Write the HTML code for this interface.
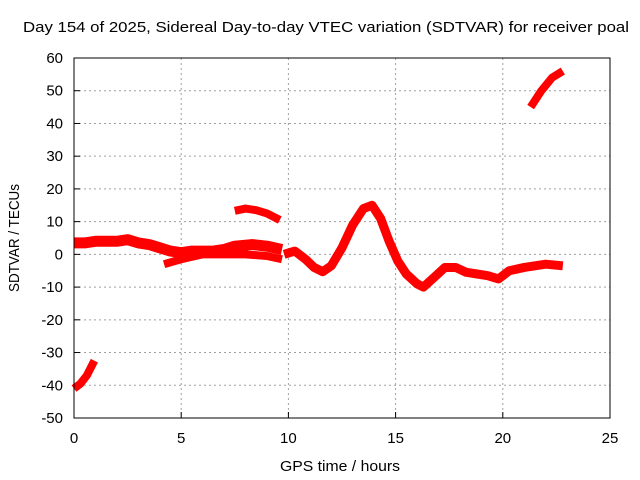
<!DOCTYPE html>
<html><head><meta charset="utf-8"><style>
body{margin:0;background:#fff;}
svg{display:block;font-family:"Liberation Sans",sans-serif;}
</style></head><body>
<svg id="chart" width="640" height="480">
<text x="326" y="32" font-size="15" text-anchor="middle" textLength="606" lengthAdjust="spacingAndGlyphs">Day 154 of 2025, Sidereal Day-to-day VTEC variation (SDTVAR) for receiver poal</text>
<text x="340" y="471" font-size="15" text-anchor="middle" textLength="120" lengthAdjust="spacingAndGlyphs">GPS time / hours</text>
<text transform="translate(19,238) rotate(-90)" font-size="15" text-anchor="middle" textLength="108" lengthAdjust="spacingAndGlyphs">SDTVAR / TECUs</text>
<g id="grid"></g><g id="series"></g>
<rect x="74" y="58" width="536" height="360" fill="none" stroke="#000" stroke-width="1"/>
</svg>
<script>
const xTicks=[0,5,10,15,20,25];
const yTicks=[60,50,40,30,20,10,0,-10,-20,-30,-40,-50];
const segNegStart=[[0,-41],[0.3,-39.5],[0.6,-37],[0.95,-32.5]];
const segEarly=[[0,3.5],[0.5,3.5],[1,4],[1.5,4],[2,4],[2.5,4.5],[3,3.5],[3.5,3],[4,2],[4.5,1],[5,0.5],[5.5,1],[6,1],[6.5,1],[7,1.5],[7.5,2.5],[8.3,3],[9,2.5],[9.7,1.5]];
const segLower=[[4.2,-3],[5,-1.5],[6,0],[7,0],[8,0],[9,-0.5],[9.7,-1.5]];
const segArc=[[7.5,13.3],[8,14],[8.5,13.5],[9,12.5],[9.6,10.5]];
const segMain=[[9.8,0],[10.3,1],[10.8,-1.5],[11.2,-4],[11.6,-5.3],[12,-3.5],[12.5,2],[13,9],[13.5,14],[13.9,15],[14.3,11],[14.7,4],[15.1,-2],[15.5,-6],[16,-9],[16.3,-10],[16.8,-7],[17.3,-4],[17.8,-4],[18.3,-5.5],[18.8,-6],[19.3,-6.5],[19.8,-7.5],[20.3,-5],[21,-4],[22,-3],[22.8,-3.5]];
const segLate=[[21.3,45],[21.8,50],[22.3,54],[22.8,56]];
const allSeries=[segNegStart,segEarly,segLower,segArc,segMain,segLate];
const widths=[8,11,8,8,9,8];
const NS="http://www.w3.org/2000/svg";
const X=v=>74+v*536/25, Y=v=>58+(60-v)*360/110;
const grid=document.getElementById('grid'), ser=document.getElementById('series');
function mk(tag,attrs,parent){const e=document.createElementNS(NS,tag);for(const k in attrs)e.setAttribute(k,attrs[k]);parent.appendChild(e);return e;}
xTicks.forEach(t=>{
  if(t>0&&t<25){const l=mk('line',{x1:X(t),x2:X(t),y1:58,y2:418,stroke:'#a0a0a0','stroke-dasharray':'2,3'},grid);
  
  }
  const tk=mk('line',{x1:X(t),x2:X(t),y1:418,y2:412,stroke:'#000'},grid);
  
  
  const tx=mk('text',{x:X(t),y:443,'font-size':15,'text-anchor':'middle'},grid);tx.textContent=t;
  
  
});
yTicks.forEach(t=>{
  if(t<60&&t>-50){const l=mk('line',{x1:74,x2:610,y1:Y(t),y2:Y(t),stroke:'#a0a0a0','stroke-dasharray':'2,3'},grid);
  
  }
  const tk=mk('line',{x1:74,x2:80,y1:Y(t),y2:Y(t),stroke:'#000'},grid);
  
  
  const tx=mk('text',{x:63,y:Y(t)+5,'font-size':15,'text-anchor':'end'},grid);tx.textContent=t;
  
  
});
allSeries.forEach((s,i)=>{
  const p=mk('polyline',{points:s.map(d=>X(d[0])+','+Y(d[1])).join(' '),fill:'none',stroke:'#ff0000','stroke-width':widths[i],'stroke-linejoin':'round','stroke-linecap':'butt'},ser);
  
  
});
</script>
</body></html>
